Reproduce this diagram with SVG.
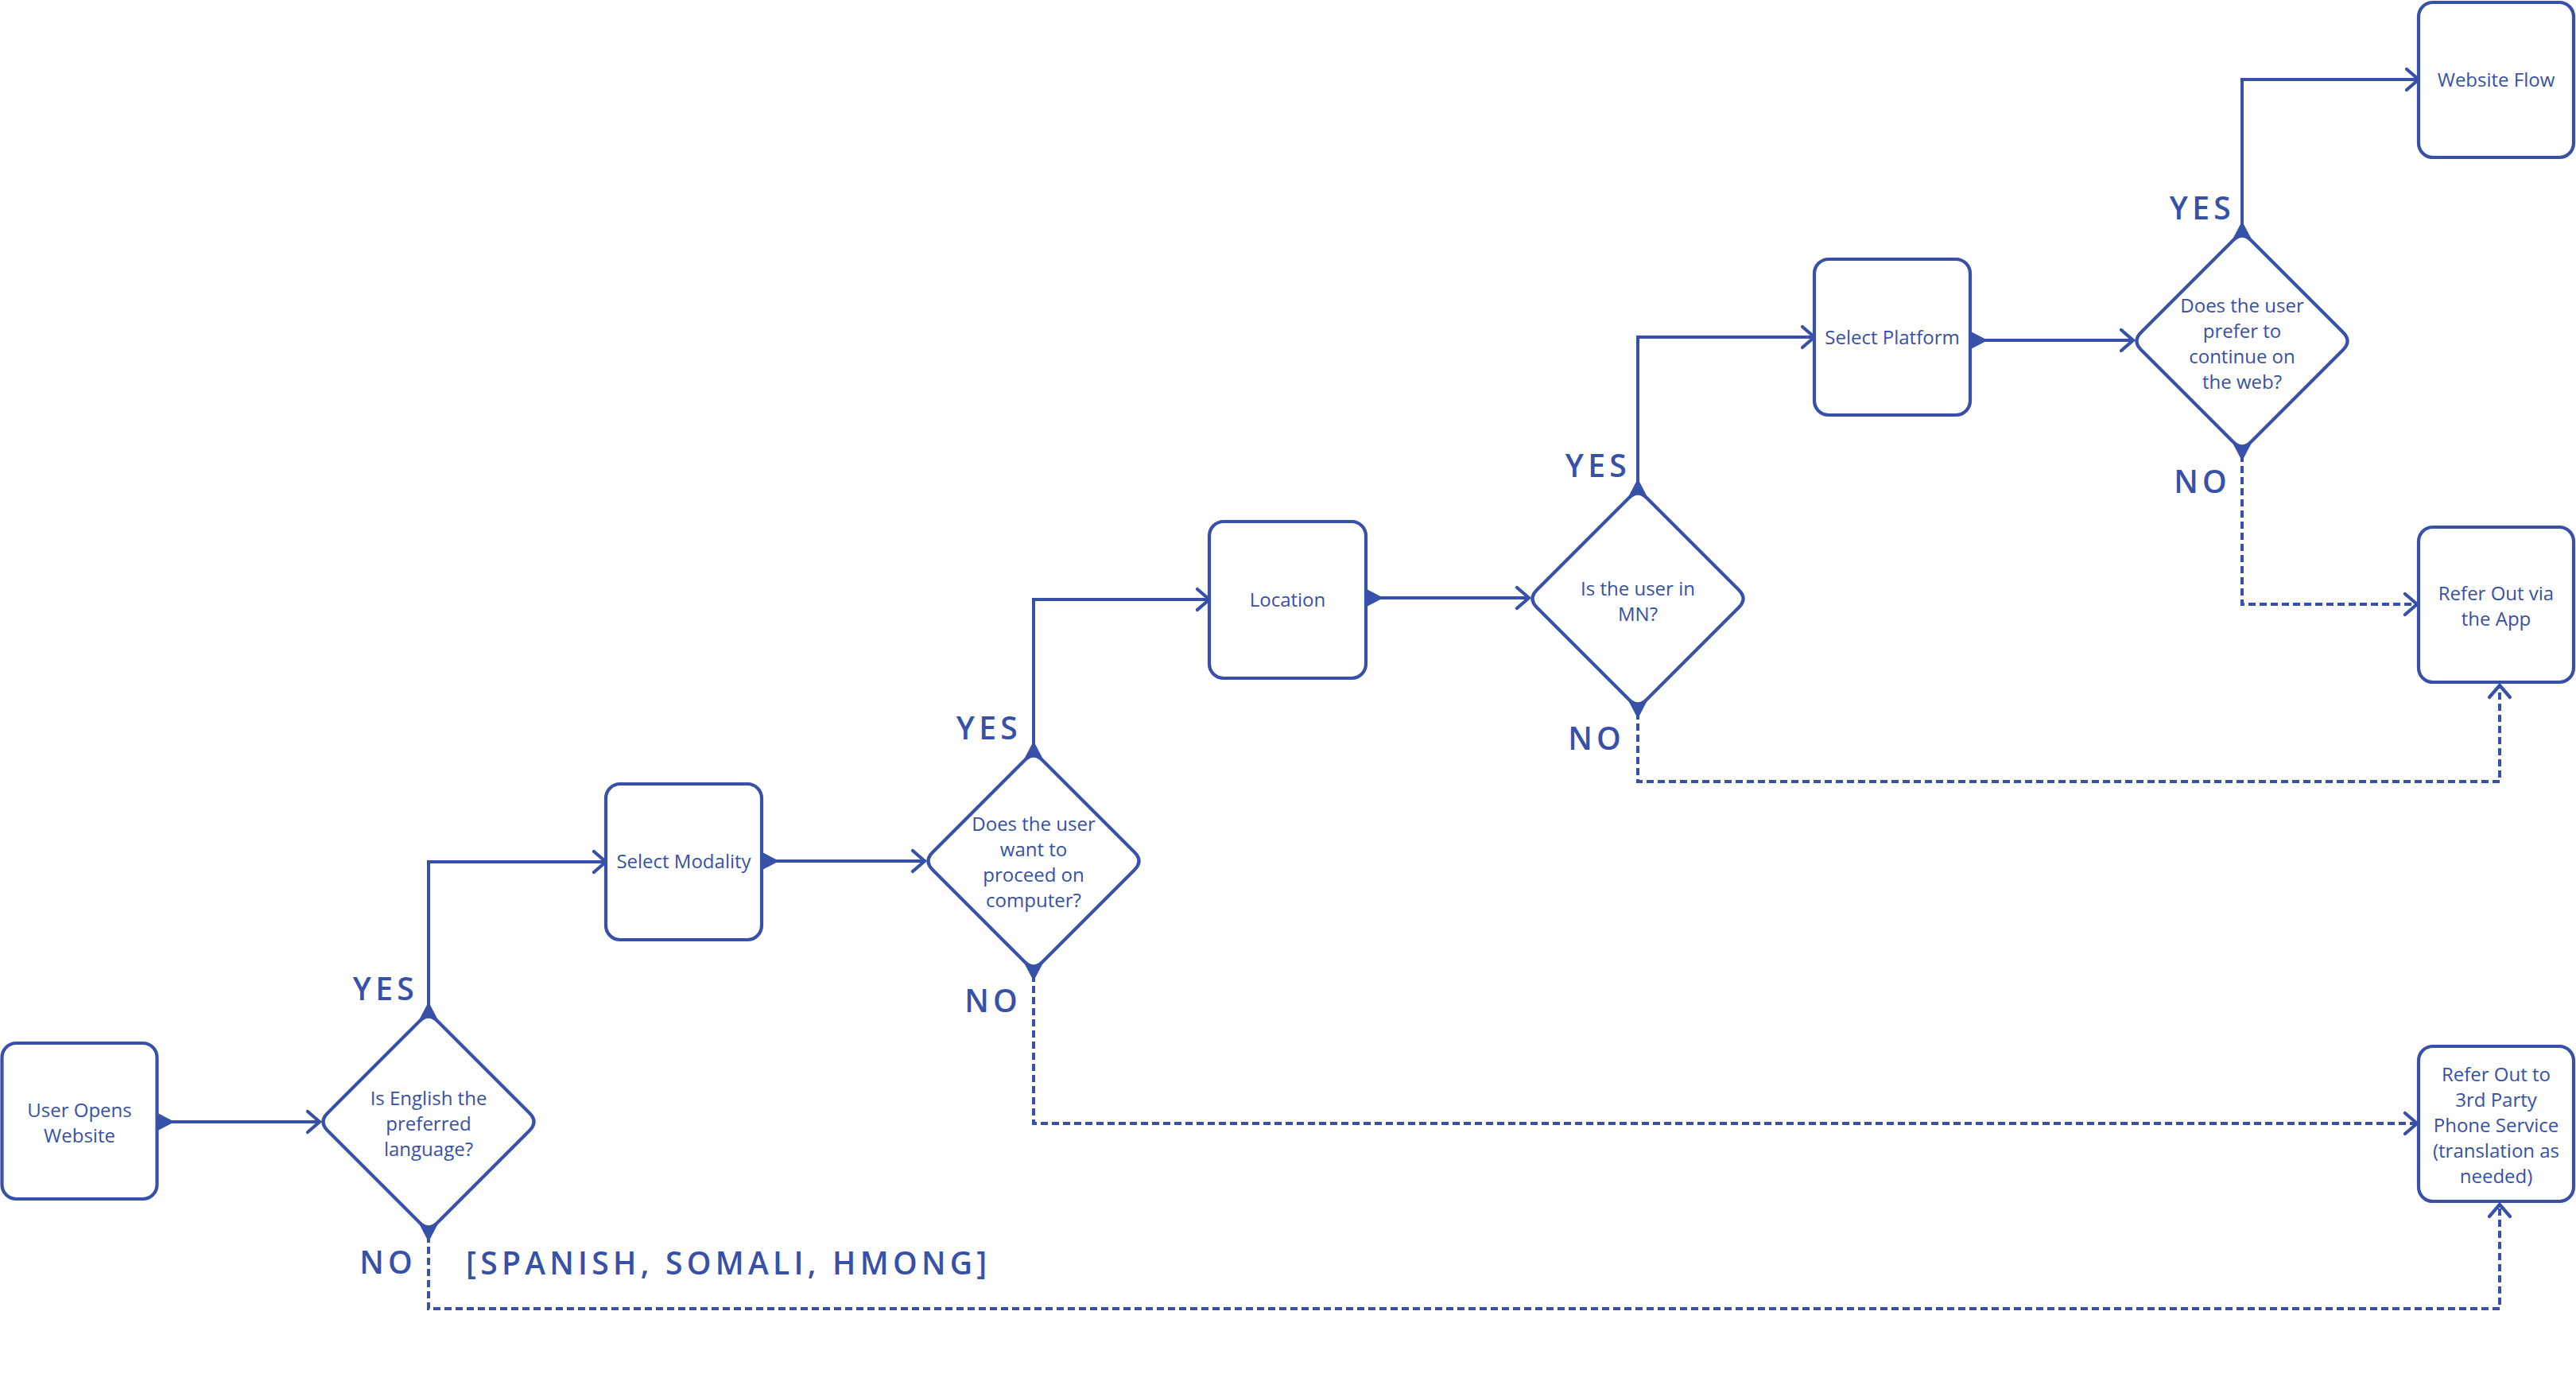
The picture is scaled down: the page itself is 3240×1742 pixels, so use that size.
<svg xmlns="http://www.w3.org/2000/svg" width="3240" height="1742" viewBox="0 0 3240 1742">
<style>
.bg{fill:#ffffff}
.box{fill:#ffffff;stroke:#3750A8;stroke-width:4.2}
.dia{fill:#ffffff;stroke:#3750A8;stroke-width:4.2;stroke-linejoin:round}
.t{font-family:"Open Sans","Noto Sans","Liberation Sans",sans-serif;font-size:24px;fill:#3750A8;text-anchor:middle;font-weight:400}
.lbl{font-family:"Open Sans","Noto Sans","Liberation Sans",sans-serif;font-size:39px;fill:#3750A8;font-weight:600;letter-spacing:5.3px}
.e{text-anchor:end}
.c{fill:none;stroke:#3750A8;stroke-width:4;marker-start:url(#tri);marker-end:url(#chev)}
.d{stroke-dasharray:9 5}
</style>
<defs>
<marker id="tri" markerUnits="userSpaceOnUse" viewBox="-2 -14 28 28" refX="0" refY="0" markerWidth="28" markerHeight="28" orient="auto" overflow="visible">
<path d="M0,-11.5 L22,0 L0,11.5 Z" fill="#3750A8" stroke="none"/>
</marker>
<marker id="chev" markerUnits="userSpaceOnUse" viewBox="-20 -16 24 32" refX="0" refY="0" markerWidth="24" markerHeight="32" orient="auto" overflow="visible">
<path d="M-15,-13 L0,0 L-15,13" fill="none" stroke="#3750A8" stroke-width="4.2" stroke-dasharray="none" stroke-linecap="round" stroke-linejoin="miter"/>
</marker>
</defs>
<rect class="bg" x="0" y="0" width="3240" height="1742"/>

<g id="connectors">
<path class="c" d="M197.5,1411 L402,1411"/>
<path class="c" d="M539,1282 L539,1084 L762,1084"/>
<path class="c" d="M958,1083 L1163,1083"/>
<path class="c" d="M1300,954 L1300,754 L1521,754"/>
<path class="c" d="M1718,752 L1923,752"/>
<path class="c" d="M2060,624 L2060,424 L2282,424"/>
<path class="c" d="M2478,428 L2683,428"/>
<path class="c" d="M2820,300 L2820,100 L3042,100"/>
<path class="c d" d="M539,1540 L539,1646 L3144,1646 L3144,1515"/>
<path class="c d" d="M1300,1212 L1300,1413 L3040,1413"/>
<path class="c d" d="M2060,882 L2060,983 L3144,983 L3144,862"/>
<path class="c d" d="M2820,558 L2820,760 L3040,760"/>
<text class="lbl e" x="526" y="1258">YES</text>
<text class="lbl e" x="524" y="1602">NO</text>
<text class="lbl" x="586" y="1603">[SPANISH, SOMALI, HMONG]</text>
<text class="lbl e" x="1285" y="930">YES</text>
<text class="lbl e" x="1285" y="1273">NO</text>
<text class="lbl e" x="2051" y="600">YES</text>
<text class="lbl e" x="2044" y="943">NO</text>
<text class="lbl e" x="2811" y="276">YES</text>
<text class="lbl e" x="2806" y="620">NO</text>
</g>

<g id="user-opens-website">
<rect class="box" x="2.5" y="1312" width="195" height="196" rx="18"/>
<text class="t" x="100" y="1405">User Opens</text>
<text class="t" x="100" y="1437">Website</text>
</g>

<g id="english-decision">
<path class="dia" d="M528,1284 Q539,1273 550,1284 L666,1400 Q677,1411 666,1422 L550,1538 Q539,1549 528,1538 L412,1422 Q401,1411 412,1400 Z"/>
<text class="t" x="539" y="1390">Is English the</text>
<text class="t" x="539" y="1422">preferred</text>
<text class="t" x="539" y="1454">language?</text>
</g>

<g id="select-modality">
<rect class="box" x="762" y="986" width="196" height="196" rx="18"/>
<text class="t" x="860" y="1092">Select Modality</text>
</g>

<g id="computer-decision">
<path class="dia" d="M1289,956 Q1300,945 1311,956 L1427,1072 Q1438,1083 1427,1094 L1311,1210 Q1300,1221 1289,1210 L1173,1094 Q1162,1083 1173,1072 Z"/>
<text class="t" x="1300" y="1045">Does the user</text>
<text class="t" x="1300" y="1077">want to</text>
<text class="t" x="1300" y="1109">proceed on</text>
<text class="t" x="1300" y="1141">computer?</text>
</g>

<g id="location">
<rect class="box" x="1521" y="656" width="197" height="197" rx="18"/>
<text class="t" x="1619.5" y="763">Location</text>
</g>

<g id="mn-decision">
<path class="dia" d="M2049,626 Q2060,615 2071,626 L2187,742 Q2198,753 2187,764 L2071,880 Q2060,891 2049,880 L1933,764 Q1922,753 1933,742 Z"/>
<text class="t" x="2060" y="749">Is the user in</text>
<text class="t" x="2060" y="781">MN?</text>
</g>

<g id="select-platform">
<rect class="box" x="2282" y="326" width="196" height="196" rx="18"/>
<text class="t" x="2380" y="433">Select Platform</text>
</g>

<g id="web-decision">
<path class="dia" d="M2809,302 Q2820,291 2831,302 L2947,418 Q2958,429 2947,440 L2831,556 Q2820,567 2809,556 L2693,440 Q2682,429 2693,418 Z"/>
<text class="t" x="2820" y="393">Does the user</text>
<text class="t" x="2820" y="425">prefer to</text>
<text class="t" x="2820" y="457">continue on</text>
<text class="t" x="2820" y="489">the web?</text>
</g>

<g id="website-flow">
<rect class="box" x="3042" y="3" width="195" height="195" rx="18"/>
<text class="t" x="3139.5" y="109">Website Flow</text>
</g>

<g id="refer-app">
<rect class="box" x="3042" y="663" width="195" height="195" rx="18"/>
<text class="t" x="3139.5" y="755">Refer Out via</text>
<text class="t" x="3139.5" y="787">the App</text>
</g>

<g id="refer-phone">
<rect class="box" x="3042" y="1316" width="195" height="195" rx="18"/>
<text class="t" x="3139.5" y="1360">Refer Out to</text>
<text class="t" x="3139.5" y="1392">3rd Party</text>
<text class="t" x="3139.5" y="1424">Phone Service</text>
<text class="t" x="3139.5" y="1456">(translation as</text>
<text class="t" x="3139.5" y="1488">needed)</text>
</g>
</svg>
